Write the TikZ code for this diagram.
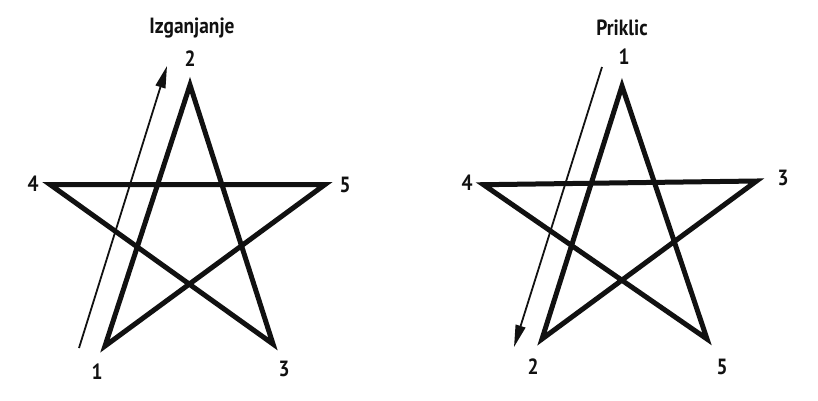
\documentclass[tikz,border=0pt]{standalone}
\usepackage{fontspec}
\setmainfont{PT Sans}[FakeStretch=0.88]
\usepackage{tikz}
\usetikzlibrary{arrows.meta}
\definecolor{Ink}{HTML}{111111}

\begin{document}
\begin{tikzpicture}[x=1pt,y=-1pt,
  pstar/.style={draw=Ink,line width=5pt,line join=miter,miter limit=12},
  num/.style={font=\fontsize{22}{22}\selectfont\bfseries\color{Ink},inner sep=0pt},
  ttl/.style={font=\fontsize{22}{22}\selectfont\bfseries\color{Ink},inner sep=0pt},
  guide/.style={draw=Ink,line width=1.8pt,-{Triangle[length=22pt,width=10pt]}}]
\path[use as bounding box] (0,0) rectangle (818,400);

% Izganjanje
\node[ttl] (ttlA) at (192,28) {Izganjanje};
\foreach \n/\x/\y in {1/105/346,2/190/85,3/273/344,4/50/184.5,5/325/184.5}{
  \coordinate (a\n) at (\x,\y);
}
\draw[pstar] (a1) -- (a2) -- (a3) -- (a4) -- (a5) -- cycle;
\foreach \n/\x/\y in {1/97/372,2/190/59,3/284/369,4/33/184,5/345/185}{
  \node[num] (la\n) at (\x,\y) {\n};
}
\coordinate (arA0) at (79,348);
\coordinate (arA1) at (167,66);
\draw[guide] (arA0) -- (arA1);

% Priklic
\node[ttl] (ttlB) at (622,28) {Priklic};
\foreach \n/\x/\y in {1/622/86,2/542/339,3/756.5/181,4/483.5/184.7,5/707/339}{
  \coordinate (b\n) at (\x,\y);
}
\draw[pstar] (b1) -- (b2) -- (b3) -- (b4) -- (b5) -- cycle;
\foreach \n/\x/\y in {1/624/57,2/533/367,3/783/178,4/467/183,5/722/367}{
  \node[num] (lb\n) at (\x,\y) {\n};
}
\coordinate (arB0) at (602,67);
\coordinate (arB1) at (514,347);
\draw[guide] (arB0) -- (arB1);
\end{tikzpicture}
\end{document}
